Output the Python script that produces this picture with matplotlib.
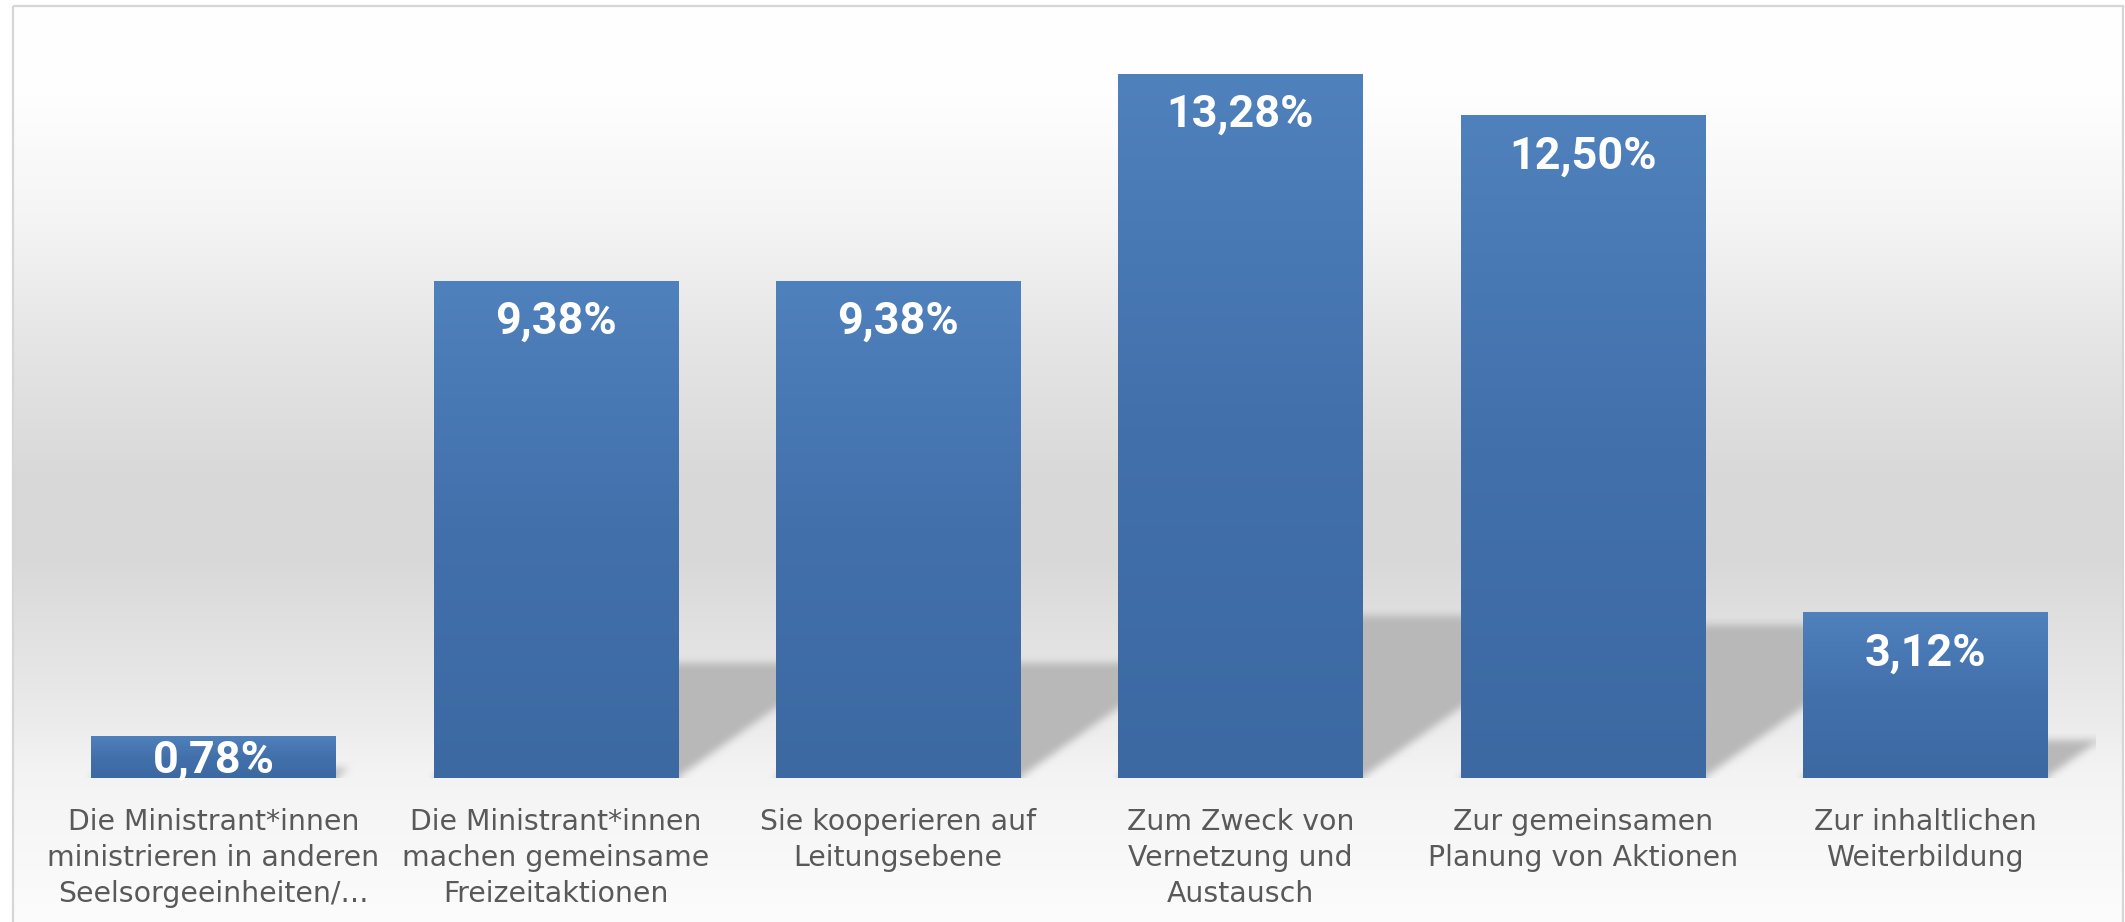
import numpy as np
import matplotlib
matplotlib.use("Agg")
import matplotlib.pyplot as plt
from matplotlib.patches import Rectangle

# ---------------- data ----------------
categories = [
    "Die Ministrant*innen\nministrieren in anderen\nSeelsorgeeinheiten/…",
    "Die Ministrant*innen\nmachen gemeinsame\nFreizeitaktionen",
    "Sie kooperieren auf\nLeitungsebene",
    "Zum Zweck von\nVernetzung und\nAustausch",
    "Zur gemeinsamen\nPlanung von Aktionen",
    "Zur inhaltlichen\nWeiterbildung",
]
values = [0.78, 9.38, 9.38, 13.28, 12.50, 3.12]
value_labels = ["0,78%", "9,38%", "9,38%", "13,28%", "12,50%", "3,12%"]

# ---------------- figure ----------------
W, H, DPI = 2125, 922, 100
fig = plt.figure(figsize=(W / DPI, H / DPI), dpi=DPI)
fig.patch.set_facecolor("white")

# background (chart area gradient + border)
bg = fig.add_axes([0, 0, 1, 1], zorder=0)
bg.set_xlim(0, W)
bg.set_ylim(H, 0)
bg.axis("off")
stops_y = [0, 90, 210, 350, 480, 560, 620, 700, 770, 800, 922]
stops_c = [255, 254, 245, 228, 216, 217, 224, 233, 243, 245, 252]
prof = np.interp(np.arange(H), stops_y, stops_c) / 255.0
bgimg = np.dstack([prof[:, None]] * 3)
bg.imshow(bgimg, extent=(13, 2123, H, 6), aspect="auto", interpolation="bilinear")
bg.add_patch(Rectangle((13, 6), 2110, 940, fill=False, ec="#d6d6d6", lw=1.6))

# main axes
ax = fig.add_axes([42.3 / W, 144.3 / H, 2054 / W, 742 / H], zorder=1)
ax.patch.set_alpha(0)
for s in ax.spines.values():
    s.set_visible(False)

x = np.arange(len(values))
bw = 0.713
bars = ax.bar(x, values, width=bw, color="#4572ad", zorder=3)

# vertical gradient fill for each bar
grad_t = np.linspace(0, 1, 256)
top_c = np.array([79, 129, 189]) / 255
mid_c = np.array([66, 112, 171]) / 255
bot_c = np.array([60, 105, 162]) / 255
gcol = np.empty((256, 3))
for ch in range(3):
    gcol[:, ch] = np.interp(grad_t, [0, 0.5, 1], [top_c[ch], mid_c[ch], bot_c[ch]])
gimg = gcol[:, None, :]
for p in bars.patches:
    x0, y0 = p.get_x(), p.get_y()
    im = ax.imshow(gimg, extent=(x0, x0 + p.get_width(), y0, y0 + p.get_height()),
                   origin="upper", aspect="auto", interpolation="bilinear", zorder=3.5)
    im.set_clip_path(p)

# perspective shadows behind bars
XMIN, XMAX, YMIN, YMAX = -0.5, 5.5, 0, 14
nx, ny = 2054, 742
xs = np.linspace(XMIN, XMAX, nx)
ys = np.linspace(YMIN, YMAX, ny)
X, Y = np.meshgrid(xs, ys)
k = 0.2183        # horizontal shift (data x units) per % of height
hfrac = 0.23      # shadow height relative to bar height
mask = np.zeros_like(X)
for p in bars.patches:
    x0, x1, v = p.get_x(), p.get_x() + p.get_width(), p.get_height()
    m = (Y <= hfrac * v) & (X >= x0 + k * Y) & (X <= x1 + k * Y)
    mask[m] = 1.0


def box_blur(a, r, axis):
    pad = [(0, 0), (0, 0)]
    pad[axis] = (r + 1, r)
    ap = np.pad(a, pad, mode="edge")
    c = np.cumsum(ap, axis=axis)
    n = 2 * r + 1
    if axis == 0:
        return (c[n:, :] - c[:-n, :]) / n
    return (c[:, n:] - c[:, :-n]) / n


for _ in range(2):
    mask = box_blur(mask, 4, 0)
    mask = box_blur(mask, 4, 1)

shadow = np.zeros((ny, nx, 4))
shadow[..., :3] = 0.725
shadow[..., 3] = np.clip(mask, 0, 1)
ax.imshow(shadow, extent=(XMIN, XMAX, YMIN, YMAX), origin="lower", aspect="auto",
          interpolation="bilinear", zorder=2)

# value labels
for xi, v, lab in zip(x, values, value_labels):
    ty = max(v - 1.0, 0.09)
    ax.text(xi, ty, lab, ha="center", va="baseline", color="white",
            fontsize=32.4, fontweight="bold", family="Roboto", zorder=5)

ax.set_xlim(XMIN, XMAX)
ax.set_ylim(YMIN, YMAX)
ax.set_yticks([])
ax.set_xticks(x)
ax.set_xticklabels(categories, fontsize=20.4, color="#595959", family="DejaVu Sans",
                   linespacing=1.37)
ax.tick_params(axis="x", length=0, pad=21.8)

fig.savefig("out.png", dpi=DPI)
